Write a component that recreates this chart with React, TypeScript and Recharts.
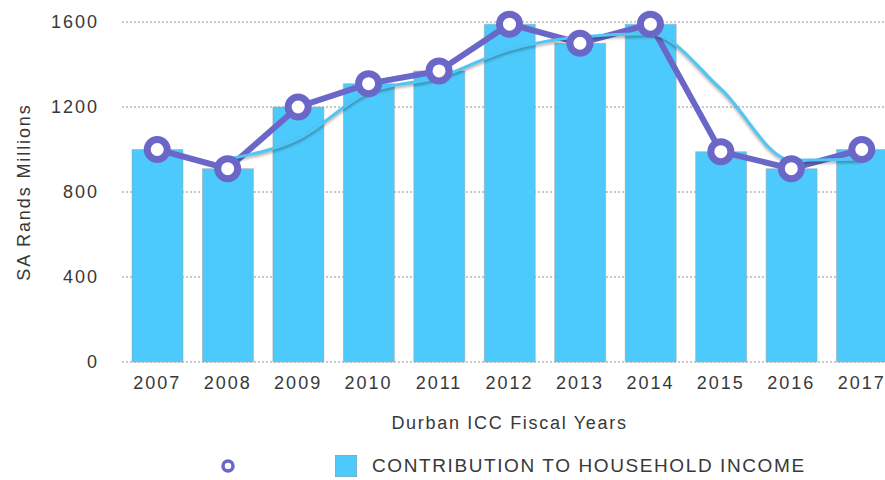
import { ComposedChart, Bar, Line, XAxis, YAxis, CartesianGrid, Legend } from 'recharts'

const years = ['2007', '2008', '2009', '2010', '2011', '2012', '2013', '2014', '2015', '2016', '2017']
const contribution = [1000, 910, 1200, 1310, 1370, 1590, 1500, 1590, 990, 910, 1000]
const trend = [null, 955, 1050, 1270, 1340, 1470, 1530, 1545, 1285, 950, 955]
const yTicks = [0, 400, 800, 1200, 1600]

const data = years.map((year, i) => ({
    year,
    contribution: contribution[i],
    household: contribution[i],
    trend: trend[i],
}))

const PURPLE = '#6b67c9'
const BLUE = '#4dcafc'
const FONT = '"Liberation Sans", Arial, sans-serif'
const TEXT = '#383838'

const LegendContent = () => {
    return (
        <div style={{ position: 'relative', height: 40, fontFamily: FONT }}>
            <svg width={20} height={20} style={{ position: 'absolute', left: 218, top: 16 }}>
                <circle cx={10} cy={10} r={5} fill="#fff" stroke={PURPLE} strokeWidth={3.5} />
            </svg>
            <div
                style={{
                    position: 'absolute',
                    left: 335,
                    top: 15,
                    width: 22,
                    height: 22,
                    background: BLUE,
                    boxShadow: 'inset 0 0 0 0.5px #999',
                }}
            />
            <div
                style={{
                    position: 'absolute',
                    left: 372,
                    top: 15,
                    fontSize: 19,
                    color: TEXT,
                    letterSpacing: 1.6,
                    whiteSpace: 'nowrap',
                }}
            >
                CONTRIBUTION TO HOUSEHOLD INCOME
            </div>
        </div>
    )
}

const App = () => {
    return (
        <div style={{ position: 'absolute', left: 0, top: 0, width: 885, height: 480, overflow: 'hidden', background: '#fff' }}>
            <style>{'.trend-line path { filter: drop-shadow(0px 2px 1.5px rgba(0,0,0,0.35)); }'}</style>
            <ComposedChart width={910} height={480} data={data} margin={{ top: 22, right: 13, left: 0, bottom: 0 }}>
                <CartesianGrid vertical={false} stroke="#b8b8b8" strokeDasharray="2 2" strokeWidth={1.5} />
                <XAxis
                    dataKey="year"
                    height={78}
                    axisLine={false}
                    tickLine={false}
                    tickSize={0}
                    tickMargin={14}
                    tick={{ fill: TEXT, fontSize: 18, fontFamily: FONT, letterSpacing: 2 }}
                    label={{
                        value: 'Durban ICC Fiscal Years',
                        position: 'insideBottom',
                        offset: 11,
                        style: { fill: TEXT, fontSize: 18, fontFamily: FONT, letterSpacing: 1.7 },
                    }}
                />
                <YAxis
                    width={122}
                    domain={[0, 1600]}
                    ticks={yTicks}
                    axisLine={false}
                    tickLine={false}
                    tickSize={0}
                    tickMargin={23}
                    tick={{ fill: TEXT, fontSize: 18, fontFamily: FONT, letterSpacing: 2 }}
                    label={{
                        value: 'SA Rands Millions',
                        angle: -90,
                        position: 'insideLeft',
                        offset: 24,
                        style: { textAnchor: 'middle', fill: TEXT, fontSize: 18, fontFamily: FONT, letterSpacing: 1.9 },
                    }}
                />
                <Legend verticalAlign="bottom" height={40} content={<LegendContent />} />
                <Bar
                    dataKey="contribution"
                    barSize={51}
                    fill={BLUE}
                    stroke="#a0a0a0"
                    strokeWidth={0.5}
                    isAnimationActive={false}
                />
                <Line
                    dataKey="household"
                    stroke={PURPLE}
                    strokeWidth={6}
                    dot={{ r: 10, fill: '#fff', stroke: PURPLE, strokeWidth: 7 }}
                    activeDot={false}
                    isAnimationActive={false}
                />
                <Line
                    className="trend-line"
                    type="monotone"
                    dataKey="trend"
                    stroke="#4fc6f5"
                    strokeWidth={3}
                    dot={false}
                    activeDot={false}
                    connectNulls
                    isAnimationActive={false}
                />
            </ComposedChart>
        </div>
    )
}

export default App
